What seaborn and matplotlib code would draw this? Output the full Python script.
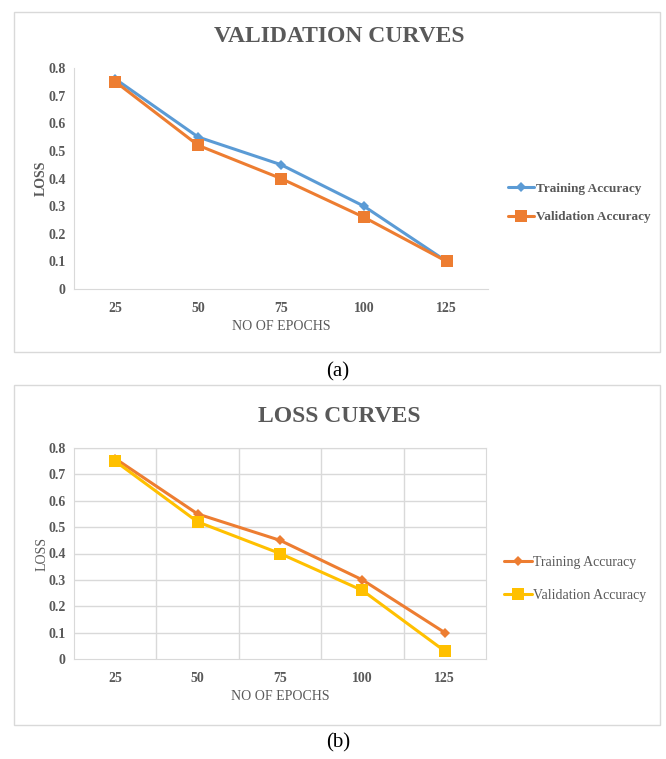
import matplotlib
matplotlib.use("Agg")
import matplotlib.pyplot as plt
from matplotlib.patches import Rectangle
import seaborn as sns
import pandas as pd

epochs = ["25", "50", "75", "100", "125"]
val_train = [0.76, 0.55, 0.45, 0.30, 0.10]
val_valid = [0.75, 0.52, 0.40, 0.26, 0.10]
loss_train = [0.76, 0.55, 0.45, 0.30, 0.10]
loss_valid = [0.75, 0.52, 0.40, 0.26, 0.03]

sns.set_style("white")
plt.rcParams['font.family'] = ['Liberation Serif', 'DejaVu Serif']

W, H = 666, 759
fig = plt.figure(figsize=(W / 100, H / 100), dpi=100)
TXT = "#595959"
EDGE = "#d9d9d9"


def fx(px):
    return px / W


def fy(py):
    return 1 - py / H


def panel(frame, box, title, series, colors, bold, grid, leg_pos, leg_space, leg_size):
    # outer chart border
    x0, y0, x1, y1 = frame
    fig.patches.append(Rectangle((fx(x0), fy(y1)), fx(x1 - x0), (y1 - y0) / H,
                                 transform=fig.transFigure, fill=False,
                                 edgecolor=EDGE, lw=1))
    l, t, r, b = box
    ax = fig.add_axes([fx(l), fy(b), fx(r - l), (b - t) / H])
    markers = ["D", "s"]
    sizes = [5, 8]
    for (name, vals), c, m, s in zip(series, colors, markers, sizes):
        df = pd.DataFrame({"epoch": range(len(epochs)), "loss": vals})
        sns.lineplot(data=df, x="epoch", y="loss", ax=ax, color=c, lw=2.2,
                     marker=m, markersize=s, markeredgewidth=0, label=name)
    ax.set_xlim(-0.5, len(epochs) - 0.5)
    ax.set_ylim(0, 0.8)
    ax.set_xticks(range(len(epochs)))
    ax.set_xticklabels(epochs)
    ax.set_yticks([i / 10 for i in range(9)])
    ax.set_yticklabels(["0"] + [f"{i / 10:.1f}" for i in range(1, 9)])
    ax.tick_params(length=0, colors=TXT, labelsize=10, pad=6)
    for lab in ax.get_xticklabels() + ax.get_yticklabels():
        lab.set_fontweight("bold")
    ax.tick_params(axis="x", pad=9)
    for sp in ax.spines.values():
        sp.set_color(EDGE)
    if grid:
        ax.set_axisbelow(True)
        for v in range(1, 9):
            ax.axhline(v / 10, color=EDGE, lw=1, zorder=0)
        for v in range(len(epochs) - 1):
            ax.axvline(v + 0.5, color=EDGE, lw=1, zorder=0)
    else:
        ax.spines["top"].set_visible(False)
        ax.spines["right"].set_visible(False)
    ax.set_xlabel("NO OF EPOCHS", color=TXT, fontsize=10, labelpad=4)
    ax.set_ylabel("LOSS", color=TXT, fontsize=10,
                  fontweight="bold" if bold else "normal", labelpad=0)
    fig.text(fx((x0 + x1) / 2 + 2), fy(t - 32), title, ha="center", va="center",
             fontsize=17, fontweight="bold", color=TXT)
    leg = ax.legend(loc="center left", bbox_to_anchor=(fx(leg_pos[0]), fy(leg_pos[1])),
                    bbox_transform=fig.transFigure, frameon=False,
                    fontsize=leg_size, handlelength=2.0, handletextpad=0.1,
                    labelspacing=leg_space, borderpad=0, borderaxespad=0)
    for tx in leg.get_texts():
        tx.set_color(TXT)
        if bold:
            tx.set_fontweight("bold")
    return ax


panel((14, 12, 660, 352), (74, 68, 488, 289), "VALIDATION CURVES",
      [("Training Accuracy", val_train), ("Validation Accuracy", val_valid)],
      ["#5B9BD5", "#ED7D31"], True, False, (508, 203), 1.2, 9.5)
panel((14, 385, 660, 725), (74, 448, 486, 659), "LOSS CURVES",
      [("Training Accuracy", loss_train), ("Validation Accuracy", loss_valid)],
      ["#ED7D31", "#FFC000"], False, True, (504, 579), 1.4, 10)

fig.text(fx(338), fy(372), "(a)", ha="center", va="center", fontsize=15, color="black")
fig.text(fx(338), fy(743), "(b)", ha="center", va="center", fontsize=15, color="black")

fig.savefig("out.png", dpi=100)
